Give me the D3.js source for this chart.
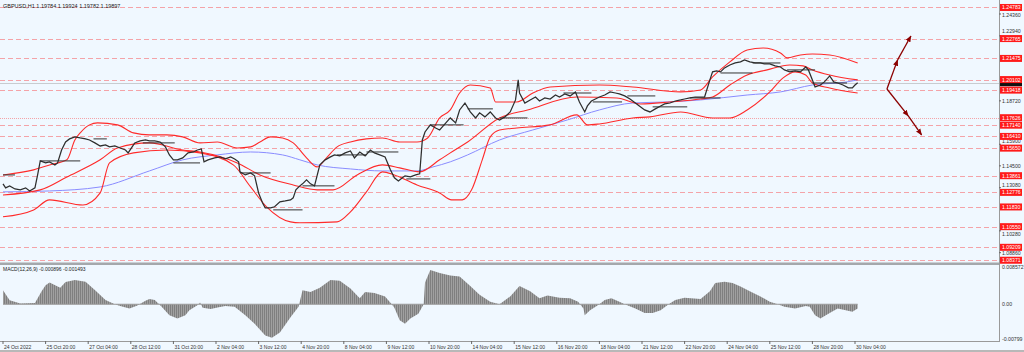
<!DOCTYPE html>
<html><head><meta charset="utf-8">
<script src="https://cdn.jsdelivr.net/npm/d3@7"></script>
<style>body{margin:0;background:#fff}svg{display:block}text{font-family:"Liberation Sans",Arial,sans-serif}</style>
</head><body><svg id="c" width="1024" height="352"></svg>
<script>
// ---------- data ----------
const title = "GBPUSD,H1  1.19784 1.19924 1.19782 1.19897";
const macdTitle = "MACD(12,26,9) -0.000896 -0.001493";
const timeLabels = ["24 Oct 2022","25 Oct 20:00","27 Oct 04:00","28 Oct 12:00","31 Oct 20:00","2 Nov 04:00","3 Nov 12:00","4 Nov 20:00","8 Nov 04:00","9 Nov 12:00","10 Nov 20:00","14 Nov 04:00","15 Nov 12:00","16 Nov 20:00","18 Nov 04:00","21 Nov 12:00","22 Nov 20:00","24 Nov 04:00","25 Nov 12:00","28 Nov 20:00","30 Nov 04:00"];
const timeLabelBars = [0,32,64,96,128,160,192,224,256,288,320,352,384,416,448,480,512,544,576,608,640];
// grid labels that are visible (others are hidden under the level tags)
const gridPrices = [1.24360,1.22940,1.18720,1.15900,1.14500,1.13080,1.10280,1.08860];
const levelPrices = [1.24783,1.22765,1.21475,1.20102,1.19418,1.17626,1.17140,1.16410,1.15650,1.13861,1.12776,1.11830,1.10550,1.09209,1.08371];
const dottedLevels = [1.17626];
const lastPrice = 1.19897;

const priceBars = [0,2,5,9,13,17,20,24,26,28,32,35,39,41,44,47,50,54,58,62,65,69,73,77,80,84,88,92,94,97,99,103,107,110,114,118,122,125,128,131,135,139,143,146,149,151,154,159,163,167,171,174,177,178,182,186,189,192,195,197,201,204,208,212,216,218,220,223,225,228,231,234,238,242,246,249,253,257,261,264,268,272,276,279,283,287,291,294,297,300,302,306,310,313,315,317,321,325,328,332,336,340,343,347,351,355,358,362,366,370,373,377,381,385,387,388,392,396,400,403,407,411,415,418,422,426,430,433,437,439,442,448,452,456,460,463,467,471,475,479,482,486,490,494,497,501,505,509,512,516,520,524,527,531,533,536,539,542,546,550,554,557,561,565,569,572,576,580,584,587,591,595,599,603,605,608,610,614,617,621,624,627,631,635,638,640,642];
const priceClose = [1.1333,1.1307,1.1320,1.1300,1.1294,1.1307,1.1287,1.1307,1.1391,1.1482,1.1469,1.1476,1.1456,1.1469,1.1553,1.1605,1.1625,1.1638,1.1631,1.1625,1.1618,1.1599,1.1579,1.1586,1.1573,1.1579,1.1566,1.1553,1.1534,1.1573,1.1599,1.1612,1.1618,1.1612,1.1612,1.1605,1.1573,1.1521,1.1489,1.1489,1.1502,1.1534,1.1540,1.1553,1.1560,1.1476,1.1489,1.1502,1.1508,1.1495,1.1508,1.1495,1.1476,1.1411,1.1391,1.1404,1.1385,1.1274,1.1209,1.1177,1.1177,1.1184,1.1216,1.1222,1.1229,1.1242,1.1294,1.1320,1.1333,1.1359,1.1333,1.1320,1.1456,1.1489,1.1508,1.1521,1.1515,1.1534,1.1547,1.1502,1.1540,1.1515,1.1553,1.1534,1.1521,1.1508,1.1424,1.1372,1.1352,1.1372,1.1385,1.1378,1.1391,1.1398,1.1618,1.1670,1.1716,1.1696,1.1683,1.1722,1.1761,1.1729,1.1813,1.1858,1.1800,1.1761,1.1794,1.1768,1.1800,1.1761,1.1748,1.1768,1.1800,1.1878,1.2008,1.1923,1.1858,1.1878,1.1897,1.1871,1.1891,1.1884,1.1910,1.1897,1.1917,1.1904,1.1930,1.1865,1.1800,1.1839,1.1871,1.1897,1.1910,1.1930,1.1923,1.1917,1.1904,1.1884,1.1858,1.1832,1.1813,1.1800,1.1820,1.1839,1.1852,1.1858,1.1871,1.1878,1.1884,1.1891,1.1897,1.1897,1.1897,1.2008,1.2060,1.2066,1.2060,1.2086,1.2105,1.2118,1.2125,1.2138,1.2125,1.2118,1.2118,1.2112,1.2112,1.2099,1.2092,1.2073,1.2060,1.2066,1.2060,1.2092,1.2073,1.2008,1.1962,1.1975,1.1995,1.2034,1.1995,1.1988,1.1975,1.1956,1.1956,1.1975,1.1990];

const upperBars = [0,23,35,48,54,58,65,71,86,98,110,123,135,148,161,176,186,193,201,210,218,228,236,243,251,261,273,285,298,311,319,328,336,343,351,366,370,386,398,411,448,473,509,524,533,546,559,571,584,589,599,608,621,642];
const upperBand = [1.1391,1.1424,1.1456,1.1489,1.1618,1.1664,1.1716,1.1729,1.1716,1.1664,1.1651,1.1651,1.1638,1.1599,1.1605,1.1566,1.1573,1.1605,1.1638,1.1631,1.1599,1.1502,1.1443,1.1502,1.1573,1.1605,1.1625,1.1631,1.1605,1.1605,1.1631,1.1761,1.1813,1.1923,1.1975,1.1956,1.1865,1.1865,1.1923,1.1962,1.1975,1.1962,1.1930,1.1943,1.2027,1.2125,1.2202,1.2215,1.2183,1.2151,1.2170,1.2176,1.2170,1.2118];
const middleBars = [0,28,48,73,86,110,135,148,176,193,218,236,248,266,285,298,313,328,336,349,373,394,431,461,479,501,524,533,546,559,574,591,601,608,621,642];
const middleBand = [1.1261,1.1294,1.1378,1.1489,1.1566,1.1599,1.1553,1.1540,1.1469,1.1391,1.1326,1.1294,1.1294,1.1391,1.1456,1.1437,1.1411,1.1489,1.1534,1.1605,1.1761,1.1813,1.1897,1.1891,1.1852,1.1865,1.1884,1.1897,1.1975,1.2040,1.2073,1.2105,1.2099,1.2073,1.2040,1.2008];
const lowerBars = [0,23,35,60,73,80,98,123,148,173,186,198,216,223,251,261,273,285,294,311,328,337,345,352,360,366,373,386,411,431,439,448,473,486,509,533,546,559,576,586,595,603,608,621,642];
const lowerBand = [1.1119,1.1164,1.1229,1.1196,1.1274,1.1469,1.1534,1.1553,1.1534,1.1456,1.1313,1.1184,1.1086,1.1080,1.1086,1.1151,1.1281,1.1411,1.1391,1.1326,1.1274,1.1229,1.1229,1.1294,1.1489,1.1638,1.1683,1.1696,1.1716,1.1781,1.1716,1.1722,1.1761,1.1768,1.1800,1.1761,1.1761,1.1813,1.1930,1.2021,1.2060,1.2040,1.1988,1.1956,1.1923];
const maBars = [0,35,73,110,135,161,186,210,223,236,261,285,311,323,336,349,373,398,424,448,473,499,524,559,584,608,634,642];
const maValues = [1.1281,1.1287,1.1313,1.1417,1.1489,1.1521,1.1540,1.1521,1.1489,1.1456,1.1430,1.1417,1.1417,1.1443,1.1476,1.1521,1.1618,1.1683,1.1748,1.1813,1.1858,1.1865,1.1878,1.1910,1.1930,1.1975,1.1995,1.2008];

// step (support) segments: [startBar, endBar, price]
const stepSegments = [[0,9,1.1391],[28,58,1.1482],[68,78,1.1625],[105,129,1.1599],[128,148,1.1469],[178,201,1.1404],[203,225,1.1164],[225,249,1.1320],[251,273,1.1521],[273,297,1.1540],[303,321,1.1365],[321,346,1.1716],[349,368,1.1820],[373,394,1.1761],[421,442,1.1923],[443,465,1.1865],[469,490,1.1904],[488,514,1.1833],[516,539,1.1891],[539,563,1.2053],[563,584,1.2118],[589,610,1.2073],[608,634,1.1988]];

const macdBars = [0,5,13,24,29,32,35,43,47,54,62,69,77,84,88,95,101,107,110,114,119,125,131,137,140,146,148,150,156,162,167,174,182,189,197,202,208,216,222,225,231,238,246,253,261,268,272,279,287,292,294,298,302,306,312,316,317,321,328,336,343,351,358,366,373,381,388,396,403,409,418,426,432,436,437,441,448,452,457,463,467,475,482,488,494,500,505,512,524,531,535,542,548,554,561,569,576,582,587,595,603,606,610,614,621,627,633,638,642];
const macdHist = [0.0032,0.0009,0.0002,0.0003,0.0030,0.0044,0.0050,0.0038,0.0051,0.0056,0.0052,0.0033,0.0010,0.0,-0.0004,-0.0010,-0.0003,0.0008,0.0012,0.0010,-0.0005,-0.0025,-0.0033,-0.0025,-0.0014,-0.0002,0.0004,-0.0008,-0.0011,-0.0007,-0.0004,-0.0006,-0.0025,-0.0045,-0.0072,-0.0077,-0.0065,-0.0030,-0.0006,0.0032,0.0028,0.0038,0.0056,0.0054,0.0036,0.0014,0.0028,0.0026,0.0018,0.0,-0.0008,-0.0037,-0.0045,-0.0033,-0.0022,0.0,0.0050,0.0079,0.0072,0.0066,0.0064,0.0042,0.0022,0.0006,0.0,0.0018,0.0042,0.0030,0.0014,0.0020,0.0015,0.0014,0.0006,-0.0010,-0.0025,-0.0014,0.0,0.0010,0.0014,0.0006,0.0,-0.0010,-0.0020,-0.0020,-0.0014,0.0,0.0010,0.0015,0.0012,0.0030,0.0049,0.0052,0.0049,0.0041,0.0030,0.0018,0.0006,0.0,-0.0006,-0.0010,-0.0004,-0.0006,-0.0025,-0.0033,-0.0020,-0.0010,-0.0014,-0.0017,-0.0010];
const signalBars = [0,9,20,32,39,50,62,73,84,95,110,122,133,144,156,171,186,197,208,219,227,234,246,257,268,279,291,302,313,322,332,347,358,370,381,392,407,430,441,452,463,479,494,505,524,539,550,569,587,603,617,629,642];
const macdSignal = [0.0036,0.0015,0.0003,0.0020,0.0040,0.0045,0.0053,0.0035,0.0012,-0.0005,0.0006,0.0004,-0.0025,-0.0018,-0.0008,-0.0004,-0.0020,-0.0055,-0.0072,-0.0045,-0.0010,0.0020,0.0040,0.0052,0.0030,0.0026,0.0015,-0.0030,-0.0030,0.0030,0.0068,0.0062,0.0040,0.0012,0.0008,0.0036,0.0020,0.0012,-0.0018,-0.0004,0.0010,-0.0012,-0.0018,-0.0002,0.0010,0.0040,0.0050,0.0030,0.0004,-0.0008,-0.0030,-0.0018,-0.0015];
const macdAxisLabels = ["0.008572","0.00","-0.00799"];
const macdAxisValues = [0.008572,0,-0.00799];

// projection arrows: [bar, price] polylines
const arrowUp = [[664,1.1949],[672,1.2138],[682,1.2293]];
const arrowDown = [[664,1.1949],[680,1.1774],[690,1.1651]];

// ---------- drawing ----------
const svg = d3.select("#c");
const W = 1024, H = 352, axisX = 999, mainB = 262, macdT = 265, macdB = 341;
const x = d3.scaleLinear().domain([0,640]).range([3,855]);
const y = d3.scaleLinear().domain([1.08256,1.25269]).range([mainB,0]);
const my = d3.scaleLinear().domain([-0.00799,0.008572]).range([339,267]);
const zip = (a,b)=>a.map((v,i)=>[v,b[i]]);

svg.append("rect").attr("width",W).attr("height",H).attr("fill","#f0f8ff");
const defs = svg.append("defs");
defs.append("clipPath").attr("id","cm").append("rect").attr("x",0).attr("y",0).attr("width",axisX).attr("height",mainB);
defs.append("clipPath").attr("id","cd").append("rect").attr("x",0).attr("y",macdT).attr("width",axisX).attr("height",macdB-macdT);
defs.append("marker").attr("id","ah").attr("viewBox","0 0 10 10").attr("refX",9).attr("refY",5)
  .attr("markerWidth",5).attr("markerHeight",5).attr("orient","auto")
  .append("path").attr("d","M0,1L10,5L0,9Z").attr("fill","#8b0000");
const pat = defs.append("pattern").attr("id","hs").attr("patternUnits","userSpaceOnUse").attr("width",2).attr("height",4);
pat.append("rect").attr("width",2).attr("height",4).attr("fill","#a9a9a9");
pat.append("rect").attr("width",1.2).attr("height",4).attr("fill","#7f7f7f");

const main = svg.append("g").attr("clip-path","url(#cm)");
// level lines
main.selectAll("line.lv").data(levelPrices).join("line").attr("class","lv")
  .attr("x1",0).attr("x2",axisX).attr("y1",d=>Math.round(y(d))+0.5).attr("y2",d=>Math.round(y(d))+0.5)
  .attr("stroke","#f4a3a8").attr("stroke-width",1)
  .attr("stroke-dasharray",d=>dottedLevels.includes(d)?"1,1":"5,3");
// last price line
main.append("line").attr("x1",0).attr("x2",axisX).attr("y1",Math.round(y(lastPrice))+0.5).attr("y2",Math.round(y(lastPrice))+0.5)
  .attr("stroke","#c8ccd0").attr("stroke-width",1);

const sm = d3.line().x(d=>x(d[0])).y(d=>y(d[1])).curve(d3.curveMonotoneX);
main.append("path").attr("d",sm(zip(maBars,maValues))).attr("fill","none").attr("stroke","#8a8cff").attr("stroke-width",1);
[[upperBars,upperBand],[middleBars,middleBand],[lowerBars,lowerBand]].forEach(([b,v])=>{
  main.append("path").attr("d",sm(zip(b,v))).attr("fill","none").attr("stroke","#ff2a2a").attr("stroke-width",1.1);
});
// step segments
main.selectAll("line.sg").data(stepSegments).join("line").attr("class","sg")
  .attr("x1",d=>x(d[0])).attr("x2",d=>x(d[1])).attr("y1",d=>y(d[2])).attr("y2",d=>y(d[2]))
  .attr("stroke","#333").attr("stroke-width",1);
// price
const pl = d3.line().x(d=>x(d[0])).y(d=>y(d[1]));
main.append("path").attr("d",pl(zip(priceBars,priceClose))).attr("fill","none").attr("stroke","#2e2e2e").attr("stroke-width",1.25).attr("stroke-linejoin","miter");
// arrows
[arrowUp,arrowDown].forEach(a=>{
  for(let i=0;i<a.length-1;i++){
    main.append("line").attr("x1",x(a[i][0])).attr("y1",y(a[i][1])).attr("x2",x(a[i+1][0])).attr("y2",y(a[i+1][1]))
      .attr("stroke","#8b0000").attr("stroke-width",1.3).attr("marker-end","url(#ah)");
  }
});
svg.append("text").attr("x",3).attr("y",8).attr("font-size",5.5).attr("fill","#222").text(title);

// MACD pane
const md = svg.append("g").attr("clip-path","url(#cd)");
const area = d3.area().x(d=>x(d[0])).y0(my(0)).y1(d=>my(d[1]));
md.append("path").attr("d",area(zip(macdBars,macdHist))).attr("fill","url(#hs)");
md.append("line").attr("x1",x(0)).attr("x2",x(642)).attr("y1",my(0)).attr("y2",my(0)).attr("stroke","#9a9a9a");
md.append("path").attr("d",sm(zip(signalBars,macdSignal))).attr("fill","none").attr("stroke","#ff5050").attr("stroke-width",0.8).attr("stroke-dasharray","1,1.5");
svg.append("text").attr("x",3).attr("y",271).attr("font-size",5).attr("fill","#222").text(macdTitle);

// separators / borders
svg.append("rect").attr("x",0).attr("y",mainB+0.5).attr("width",axisX+1).attr("height",2.5).attr("fill","#a4a8ac");
svg.append("line").attr("x1",axisX+0.5).attr("x2",axisX+0.5).attr("y1",0).attr("y2",macdB).attr("stroke","#9a9a9a");
svg.append("line").attr("x1",0).attr("x2",axisX+1).attr("y1",macdB+0.5).attr("y2",macdB+0.5).attr("stroke","#9a9a9a");
svg.append("rect").attr("x",0).attr("y",350).attr("width",W).attr("height",2).attr("fill","#b8b8b8");

// right price axis grid labels, nudged clear of the level tags
const tagY = levelPrices.map(p=>y(p));
function labelY(p){
  let cy = y(p);
  for(let k=0;k<3;k++){
    tagY.forEach(t=>{ const d = cy - t; if(Math.abs(d) < 7.2){ cy = t + (d<0?-7.2:7.2); } });
  }
  return cy;
}
svg.selectAll("text.gp").data(gridPrices).join("text").attr("class","gp")
  .attr("x",1002).attr("y",d=>labelY(d)+2).attr("font-size",5.2).attr("fill","#333").text(d=>d.toFixed(5));
svg.selectAll("line.gt").data(gridPrices).join("line").attr("class","gt")
  .attr("x1",axisX).attr("x2",axisX+2).attr("y1",d=>y(d)).attr("y2",d=>y(d)).attr("stroke","#666");
// last price label (mostly under the level tag)
svg.append("rect").attr("x",1000).attr("y",y(lastPrice)-3.5).attr("width",22).attr("height",7).attr("fill","#111");
// level labels
const lg = svg.selectAll("g.ll").data(levelPrices).join("g").attr("class","ll").attr("transform",d=>`translate(1000,${y(d)})`);
lg.append("rect").attr("x",0).attr("y",-3.5).attr("width",22).attr("height",7).attr("fill","#ff1a1a");
lg.append("text").attr("x",2).attr("y",2).attr("font-size",5.2).attr("fill","#fff").text(d=>d.toFixed(5));

// MACD axis labels
svg.selectAll("text.ma").data(macdAxisValues).join("text").attr("class","ma")
  .attr("x",1002).attr("y",d=>my(d)+2).attr("font-size",5.2).attr("fill","#333").text((d,i)=>macdAxisLabels[i]);

// time axis
const tg = svg.selectAll("g.tl").data(timeLabelBars).join("g").attr("class","tl").attr("transform",d=>`translate(${x(d)},${macdB})`);
tg.append("line").attr("x1",0).attr("x2",0).attr("y1",0).attr("y2",3).attr("stroke","#666");
tg.append("text").attr("x",1).attr("y",8).attr("font-size",5).attr("fill","#333").text((d,i)=>timeLabels[i]);
</script></body></html>
